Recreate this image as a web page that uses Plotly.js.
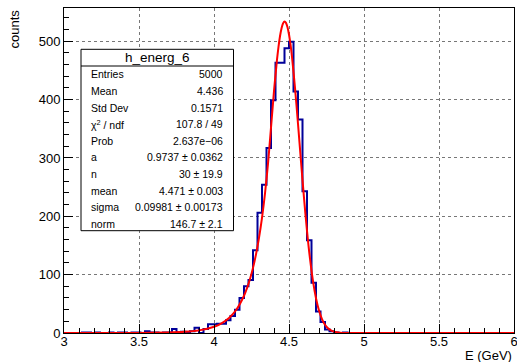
<!DOCTYPE html>
<html><head><meta charset="utf-8">
<script src="https://cdn.plot.ly/plotly-3.0.1.min.js"></script>
<style>html,body{margin:0;padding:0;background:#fff;} #chart{width:517px;height:362px;}</style>
</head><body><div id="chart"></div>
<script>
// ---- data ----
const histName = "h_energ_6";
const binLow = 3.0;
const binHigh = 6.0;
const counts = [
  0,0,0,0,1,1,0,1,0,0,
  1,0,1,1,0,1,1,0,3,1,
  1,0,1,1,7,1,2,1,3,9,
  0,7,15,15,16,16,22,29,40,60,
  80,91,142,206,254,317,399,463,463,488,
  499,414,366,243,159,86,37,19,6,3,
  1,0,1,0,0,0,0,0,0,0,
  0,0,0,0,0,0,0,0,0,0,
  0,0,0,0,0,0,0,0,0,0,
  0,0,0,0,0,0,0,0,0,0
];
const fitX = [3.0,3.5,3.7,3.8,3.9,4.0,4.05,4.10,4.15,4.20,4.22,4.24,4.26,4.28,4.30,4.32,4.34,4.36,4.3738,
  4.40,4.42,4.43,4.44,4.45,4.46,4.471,4.48,4.49,4.50,4.51,4.52,4.54,4.56,4.58,4.60,4.62,4.64,4.66,4.68,
  4.70,4.72,4.74,4.76,4.78,4.80,4.84,4.90,5.0,6.0];
const fitY = [0.005,0.18,0.87,1.96,4.51,10.6,16.5,25.7,40.3,63.8,76.8,92.5,111.6,134.8,163.0,197.3,239.1,290.2,332.2,
  414.4,468.4,490.5,508.6,522.0,530.5,533.7,531.5,524.1,511.6,494.5,473.1,420.2,358.6,294.0,231.5,175.1,127.3,88.9,59.6,
  38.4,23.8,14.1,8.07,4.43,2.33,0.57,0.05,0,0];
const statLabels = ["Entries","Mean","Std Dev","χ<sup>2</sup> / ndf","Prob","a","n","mean","sigma","norm"];
const statValues = ["5000","4.436","0.1571","107.8 / 49","2.637e−06","0.9737 ± 0.0362","30 ± 19.9","4.471 ± 0.003","0.09981 ± 0.00173","146.7 ± 2.1"];
const xTitle = "E (GeV)";
const yTitle = "counts";

// ---- build step outline from bins ----
const nb = counts.length;
const bw = (binHigh - binLow) / nb;
const hx = [], hy = [];
for (let i = 0; i < nb; i++) { hx.push(binLow + i * bw); hy.push(counts[i]); }
hx.push(binHigh); hy.push(counts[nb - 1]);

// ---- geometry (pixels) ----
const W = 517, H = 362, L = 64, T = 8, PW = 450, PH = 325;
const px = v => (v - L) / PW;
const py = v => (T + PH - v) / PH;
const FONT = "Liberation Sans, Arial, Helvetica, sans-serif";

const box = {x0: 81, x1: 233.5, y0: 49.3, y1: 230.7, sep: 66};
const rowTop = 74.3, rowStep = 16.63;

const shapes = [
  {type:'rect', xref:'paper', yref:'paper', x0:px(box.x0), x1:px(box.x1), y0:py(box.y1), y1:py(box.y0),
   line:{color:'black', width:1}, fillcolor:'white', layer:'above'},
  {type:'line', xref:'paper', yref:'paper', x0:px(box.x0), x1:px(box.x1), y0:py(box.sep), y1:py(box.sep),
   line:{color:'black', width:1}, layer:'above'}
];
const annotations = [
  {text: histName, xref:'paper', yref:'paper', x:px((box.x0+box.x1)/2), y:py((box.y0+box.sep)/2),
   xanchor:'center', yanchor:'middle', showarrow:false, font:{family:FONT, size:13.5, color:'black'}},
  {text: xTitle, xref:'paper', yref:'paper', x:1, y:py(355), xanchor:'right', yanchor:'middle',
   showarrow:false, font:{family:FONT, size:13, color:'black'}},
  {text: yTitle, xref:'paper', yref:'paper', x:px(14), y:1, xanchor:'center', yanchor:'top', textangle:-90,
   showarrow:false, font:{family:FONT, size:13, color:'black'}}
];
statLabels.forEach((lab, i) => {
  const yy = py(rowTop + i * rowStep);
  annotations.push({text: lab, xref:'paper', yref:'paper', x:px(89), y:yy, xanchor:'left', yanchor:'middle',
    showarrow:false, font:{family:FONT, size:10.5, color:'black'}});
  annotations.push({text: statValues[i], xref:'paper', yref:'paper', x:px(225), y:yy, xanchor:'right', yanchor:'middle',
    showarrow:false, font:{family:FONT, size:10.5, color:'black'}});
});

const traces = [
  {x: hx, y: hy, type:'scatter', mode:'lines', line:{shape:'hv', color:'#000099', width:2}, hoverinfo:'skip'},
  {x: fitX, y: fitY, type:'scatter', mode:'lines', line:{shape:'spline', smoothing:0.8, color:'#ff0000', width:2}, hoverinfo:'skip'}
];

const axisCommon = {
  showline:true, mirror:true, linecolor:'black', linewidth:1,
  ticks:'inside', tickcolor:'black', ticklen:9, tickwidth:1,
  showgrid:true, gridcolor:'#777', griddash:'dot', gridwidth:1,
  zeroline:false, tickfont:{family:FONT, size:13, color:'black'}, automargin:false,
  ticklabeloverflow:'allow'
};

const layout = {
  width: W, height: H,
  margin: {l:L, r:W-L-PW, t:T, b:H-T-PH, pad:0},
  paper_bgcolor:'white', plot_bgcolor:'white',
  showlegend:false,
  xaxis: Object.assign({}, axisCommon, {range:[binLow, binHigh], tickmode:'linear', tick0:3, dtick:0.5,
    ticklabelstandoff:-4,
    minor:{ticks:'inside', dtick:0.1, ticklen:5, tickcolor:'black', showgrid:false}}),
  yaxis: Object.assign({}, axisCommon, {range:[0, 557], tickmode:'linear', tick0:0, dtick:100,
    minor:{ticks:'inside', dtick:20, ticklen:5, tickcolor:'black', showgrid:false}}),
  shapes: shapes,
  annotations: annotations
};

Plotly.newPlot('chart', traces, layout, {staticPlot:true, displayModeBar:false});
</script>
</body></html>
